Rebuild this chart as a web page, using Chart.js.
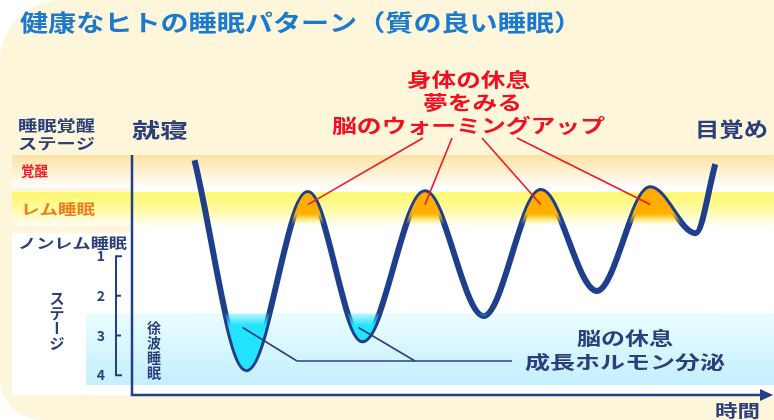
<!DOCTYPE html>
<html>
<head>
<meta charset="utf-8">
<script src="https://cdn.jsdelivr.net/npm/chart.js@4"></script>
<style>
  html, body { margin: 0; padding: 0; background: #fff; }
  #wrap { width: 774px; height: 420px; }
</style>
</head>
<body>
<div id="wrap"><canvas id="sleepChart"></canvas></div>
<script>
// minutes after going to bed, and sleep depth (stage; <1 = REM / awake)
const sleepMinutes = [0, 40, 87, 129, 177, 222, 266, 309, 350, 385, 400];
const sleepStage = [-1.42, 3.85, -0.59, 3.12, -0.61, 2.51, -0.64, 1.88, -0.71, 0.42, -1.32];
const stageTicks = ['1', '2', '3', '4'];
const remPeaks = [87, 177, 266, 350];
const deepTroughs = [40, 129];

const NAVY = '#2a3f7c';
const FONT = '"Noto Sans CJK JP", sans-serif';

function fitText(ctx, text, x, y, width, size, color) {
    ctx.save();
    ctx.font = 'bold ' + size + 'px ' + FONT;
    ctx.fillStyle = color;
    ctx.textBaseline = 'middle';
    ctx.textAlign = 'left';
    const w = ctx.measureText(text).width;
    ctx.translate(x, y);
    ctx.scale(width / w, 1);
    ctx.fillText(text, 0, 0);
    ctx.restore();
}

function verticalText(ctx, text, x, y, step, size, color) {
    ctx.save();
    ctx.font = 'bold ' + size + 'px ' + FONT;
    ctx.fillStyle = color;
    ctx.textBaseline = 'middle';
    ctx.textAlign = 'center';
    [...text].forEach((ch, i) => {
        const cy = y + i * step;
        if (ch === 'ー') {
            ctx.save();
            ctx.translate(x, cy);
            ctx.rotate(Math.PI / 2);
            ctx.fillText(ch, 0, 0);
            ctx.restore();
        } else {
            ctx.fillText(ch, x, cy);
        }
    });
    ctx.restore();
}

const backdrop = {
    id: 'backdrop',
    beforeDraw(chart) {
        const ctx = chart.ctx;
        const y = chart.scales.y;
        const area = chart.chartArea;
        const Y = v => y.getPixelForValue(v);
        ctx.save();
        ctx.fillStyle = '#ffffff';
        ctx.fillRect(0, 0, chart.width, chart.height);
        ctx.fillStyle = '#fdf6da';
        ctx.beginPath();
        ctx.roundRect(0, 0, chart.width + 20, chart.height, [62, 0, 0, 42]);
        ctx.fill();

        // white panels
        ctx.fillStyle = '#ffffff';
        ctx.fillRect(12, Y(0.42), area.left - 12, area.bottom + 2 - Y(0.42));
        ctx.fillRect(area.left, Y(-0.72), chart.width - area.left, area.bottom - Y(-0.72));

        // awake band
        let g = ctx.createLinearGradient(0, Y(-1.55), 0, Y(-0.72));
        g.addColorStop(0, '#fde2a2');
        g.addColorStop(1, '#ffffff');
        ctx.fillStyle = g;
        ctx.fillRect(12, Y(-1.55), chart.width, Y(-0.72) - Y(-1.55));

        // REM band
        g = ctx.createLinearGradient(0, Y(-0.61), 0, Y(0.22));
        g.addColorStop(0, '#fff86a');
        g.addColorStop(0.5, '#fffaa0');
        g.addColorStop(1, '#fffef2');
        ctx.fillStyle = g;
        ctx.fillRect(12, Y(-0.61), chart.width, Y(0.22) - Y(-0.61));

        // slow wave band
        g = ctx.createLinearGradient(0, Y(2.44), 0, Y(4.25));
        g.addColorStop(0, '#e9fdff');
        g.addColorStop(1, '#c4effd');
        ctx.fillStyle = g;
        ctx.fillRect(86, Y(2.44), chart.width, Y(4.25) - Y(2.44));
        ctx.restore();
    },
    afterDatasetsDraw(chart) {
        const ctx = chart.ctx;
        const x = chart.scales.x;
        const y = chart.scales.y;
        const area = chart.chartArea;
        const Y = v => y.getPixelForValue(v);
        const X = v => x.getPixelForValue(v);
        ctx.save();

        // axes
        ctx.strokeStyle = '#22408a';
        ctx.fillStyle = '#22408a';
        ctx.lineWidth = 2.5;
        ctx.beginPath();
        ctx.moveTo(area.left, area.top);
        ctx.lineTo(area.left, area.bottom + 2);
        ctx.lineTo(area.right - 8, area.bottom + 2);
        ctx.stroke();
        ctx.beginPath();
        ctx.moveTo(area.right + 3, area.bottom + 2);
        ctx.lineTo(area.right - 10, area.bottom - 4);
        ctx.lineTo(area.right - 10, area.bottom + 8);
        ctx.closePath();
        ctx.fill();

        // stage bracket
        ctx.lineWidth = 2;
        ctx.beginPath();
        ctx.moveTo(122, Y(1));
        ctx.lineTo(116, Y(1));
        ctx.lineTo(116, Y(4));
        ctx.lineTo(122, Y(4));
        ctx.moveTo(116, Y(2)); ctx.lineTo(121, Y(2));
        ctx.moveTo(116, Y(3)); ctx.lineTo(121, Y(3));
        ctx.stroke();

        // red pointer lines to REM peaks
        const starts = [423, 452, 482, 517];
        ctx.strokeStyle = '#f01828';
        ctx.lineWidth = 1.6;
        remPeaks.forEach((m, i) => {
            ctx.beginPath();
            ctx.moveTo(starts[i], 138);
            ctx.lineTo(X(m), Y(-0.3));
            ctx.stroke();
        });

        // navy pointer lines to deep sleep troughs
        const ends = [297, 415];
        const lineY = 361;
        ctx.strokeStyle = '#2e4078';
        ctx.lineWidth = 1.6;
        deepTroughs.forEach((m, i) => {
            ctx.beginPath();
            ctx.moveTo(X(m) - 4, Y(2.8));
            ctx.lineTo(ends[i], lineY);
            ctx.stroke();
        });
        ctx.beginPath();
        ctx.moveTo(ends[0], lineY);
        ctx.lineTo(512, lineY);
        ctx.stroke();

        // texts
        fitText(ctx, '健康なヒトの睡眠パターン（質の良い睡眠）', 20, 22, 562, 23, '#1a7ad0');
        fitText(ctx, '睡眠覚醒', 18, 125, 77, 15, NAVY);
        fitText(ctx, 'ステージ', 18, 143, 77, 15, NAVY);
        fitText(ctx, '就寝', 132, 130, 56, 20, NAVY);
        fitText(ctx, '目覚め', 695, 129, 73, 20, NAVY);
        fitText(ctx, '覚醒', 21, 171, 27, 14, '#ee1c25');
        fitText(ctx, 'レム睡眠', 21, 209, 74, 14, '#f07c18');
        fitText(ctx, 'ノンレム睡眠', 18, 243, 109, 14, NAVY);

        ctx.font = 'bold 14px ' + FONT;
        ctx.fillStyle = NAVY;
        ctx.textAlign = 'center';
        ctx.textBaseline = 'middle';
        stageTicks.forEach((t, i) => ctx.fillText(t, 101, Y(i + 1)));
        verticalText(ctx, 'ステージ', 57, 298, 15, 15, NAVY);
        verticalText(ctx, '徐波睡眠', 154, 328, 15, 14, NAVY);

        fitText(ctx, '身体の休息', 407, 80, 123, 19, '#f01020');
        fitText(ctx, '夢をみる', 423, 103, 99, 19, '#f01020');
        fitText(ctx, '脳のウォーミングアップ', 332, 126, 273, 19, '#f01020');
        fitText(ctx, '脳の休息', 577, 338, 96, 18, NAVY);
        fitText(ctx, '成長ホルモン分泌', 525, 362, 200, 18, NAVY);
        fitText(ctx, '時間', 715, 411, 45, 17, NAVY);
        ctx.restore();
    }
};

function orangeFill(context) {
    const chart = context.chart;
    if (!chart.chartArea) return 'rgba(0,0,0,0)';
    const y = chart.scales.y;
    const g = chart.ctx.createLinearGradient(0, y.getPixelForValue(-0.75), 0, y.getPixelForValue(0.2));
    g.addColorStop(0, '#ffab00');
    g.addColorStop(0.72, '#ffb000');
    g.addColorStop(1, 'rgba(255,230,60,0)');
    return g;
}

function cyanFill(context) {
    const chart = context.chart;
    if (!chart.chartArea) return '#22e4ff';
    const y = chart.scales.y;
    const g = chart.ctx.createLinearGradient(0, y.getPixelForValue(2.44), 0, y.getPixelForValue(2.75));
    g.addColorStop(0, 'rgba(34,228,255,0.2)');
    g.addColorStop(1, '#22e4ff');
    return g;
}

const points = sleepMinutes.map((m, i) => ({ x: m, y: sleepStage[i] }));
const lastIndex = sleepMinutes.length - 1;

new Chart(document.getElementById('sleepChart'), {
    type: 'line',
    data: {
        datasets: [{
            data: points,
            borderWidth: 0,
            pointRadius: 0,
            cubicInterpolationMode: 'monotone',
            backgroundColor: cyanFill,
            fill: { target: { value: 2.44 }, above: 'rgba(0,0,0,0)' }
        }, {
            data: points,
            borderWidth: 0,
            pointRadius: 0,
            cubicInterpolationMode: 'monotone',
            backgroundColor: orangeFill,
            fill: { target: { value: 0.2 }, below: 'rgba(0,0,0,0)' },
            segment: {
                // no fill on the bedtime / wake-up ends
                backgroundColor: c => (c.p0DataIndex === 0 || c.p1DataIndex === lastIndex)
                    ? 'rgba(0,0,0,0)' : undefined
            }
        }, {
            data: points,
            borderColor: '#1f3f8c',
            borderWidth: 6,
            pointRadius: 0,
            cubicInterpolationMode: 'monotone',
            fill: false
        }]
    },
    options: {
        responsive: true,
        maintainAspectRatio: false,
        animation: false,
        layout: { padding: { left: 132, top: 155, right: 4, bottom: 27 } },
        plugins: { legend: { display: false }, tooltip: { enabled: false } },
        scales: {
            x: { type: 'linear', display: false, min: -48, max: 442 },
            y: { display: false, reverse: true, min: -1.55, max: 4.45 }
        }
    },
    plugins: [backdrop]
});
</script>
</body>
</html>
